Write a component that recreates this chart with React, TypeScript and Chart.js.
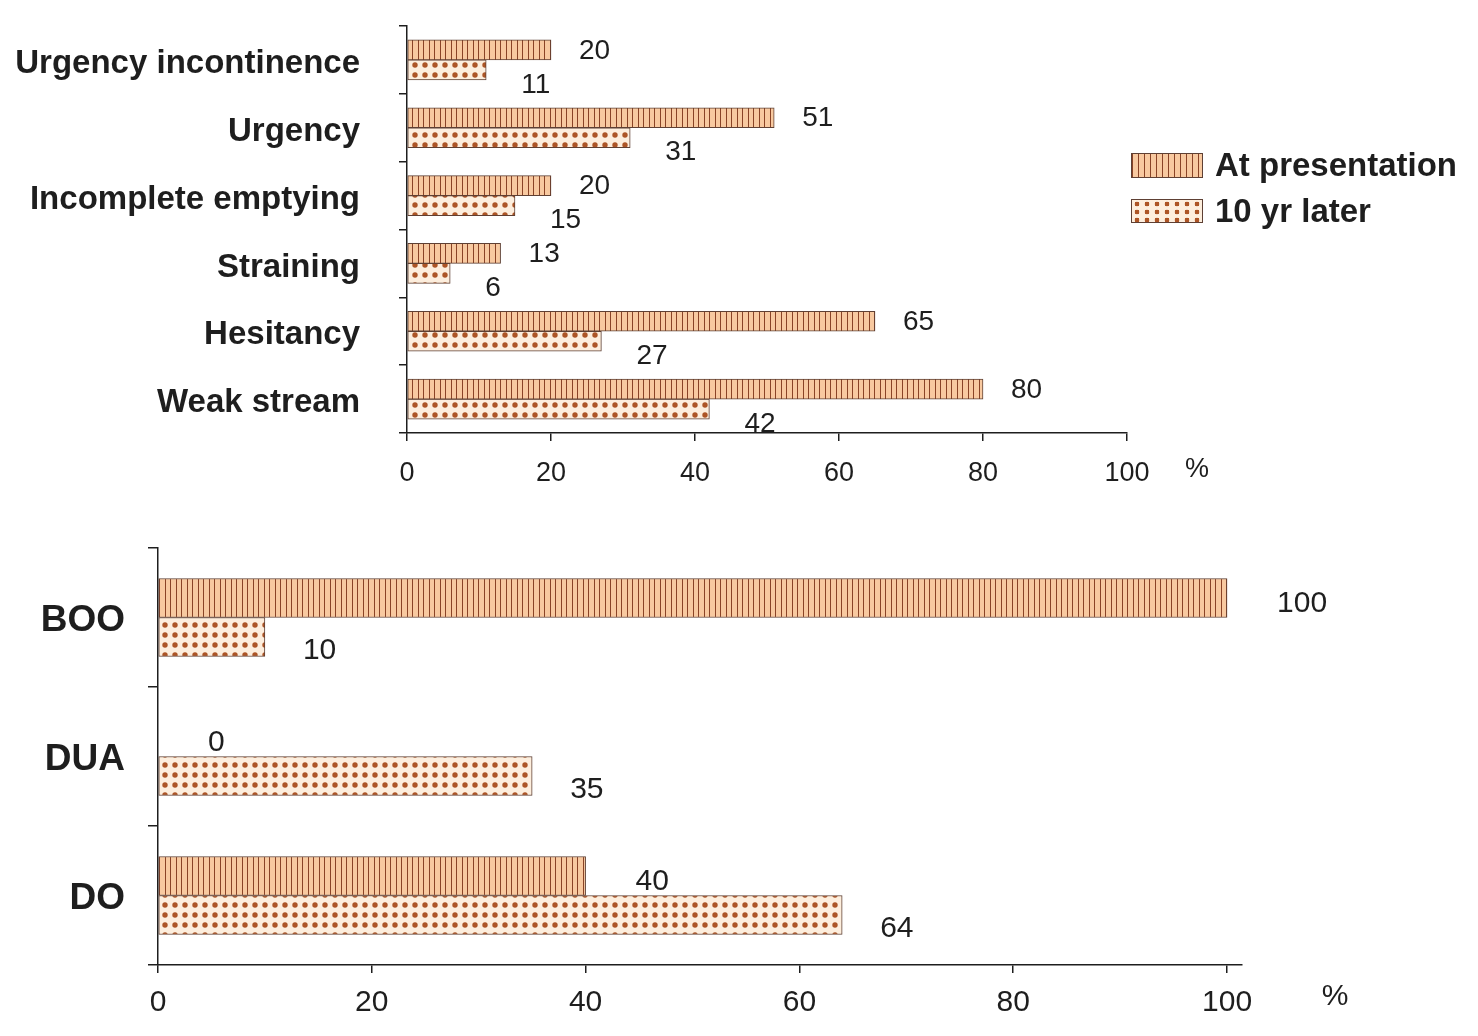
import { useEffect, useRef } from 'react'
import { Chart, registerables } from 'chart.js'

Chart.register(...registerables)

const seriesNames = ['At presentation', '10 yr later']

const symptomLabels = [
  'Urgency incontinence',
  'Urgency',
  'Incomplete emptying',
  'Straining',
  'Hesitancy',
  'Weak stream',
]
const symptomAtPresentation = [20, 51, 20, 13, 65, 80]
const symptomTenYrLater = [11, 31, 15, 6, 27, 42]

const urodynamicLabels = ['BOO', 'DUA', 'DO']
const urodynamicAtPresentation = [100, 0, 40]
const urodynamicTenYrLater = [10, 35, 64]

const xTickStep = 20
const xUnit = '%'

const W = 1478
const FONT = '"Liberation Sans", Arial, Helvetica, sans-serif'
const INK = '#1e1e1e'
const LINE_BG = '#f8c9a0'
const LINE_FG = '#8a4326'
const DOT_BG = '#fdeedd'
const DOT_FG = '#ad5526'
const BAR_BORDER = '#5e4034'

// vertical hatching, ~5.5px period
function linePattern() {
  const c = document.createElement('canvas')
  c.width = 11
  c.height = 4
  const g = c.getContext('2d')!
  g.fillStyle = LINE_BG
  g.fillRect(0, 0, 11, 4)
  g.fillStyle = LINE_FG
  g.fillRect(0, 0, 1, 4)
  g.fillRect(5, 0, 1, 4)
  return g.createPattern(c, 'repeat')!
}

function dotPattern() {
  const c = document.createElement('canvas')
  c.width = 10
  c.height = 10
  const g = c.getContext('2d')!
  g.fillStyle = DOT_BG
  g.fillRect(0, 0, 10, 10)
  g.fillStyle = DOT_FG
  g.beginPath()
  g.arc(5, 5, 2.7, 0, Math.PI * 2)
  g.fill()
  return g.createPattern(c, 'repeat')!
}

type PanelSpec = {
  top: number
  height: number
  area: { left: number; right: number; top: number; bottom: number }
  max: number
  barThickness: number
  catFont: number
  catPad: number
  catTick: number
  catShift: number
  tickFont: number
  tickPad: number
  valueFont: number
  valueOffsets: [number, number][]
  unitOffset: [number, number]
}

function BarPanel({
  labels,
  first,
  second,
  spec,
}: {
  labels: string[]
  first: number[]
  second: number[]
  spec: PanelSpec
}) {
  const canvasRef = useRef<HTMLCanvasElement | null>(null)

  useEffect(() => {
    const canvas = canvasRef.current
    if (!canvas) return
    const { area } = spec

    const valueLabels = {
      id: 'valueLabels',
      afterDatasetsDraw(chart: Chart) {
        const ctx = chart.ctx
        ctx.save()
        ctx.font = `${spec.valueFont}px ${FONT}`
        ctx.fillStyle = INK
        ctx.textAlign = 'left'
        ctx.textBaseline = 'middle'
        chart.data.datasets.forEach((ds, i) => {
          const [dx, dy] = spec.valueOffsets[i]
          chart.getDatasetMeta(i).data.forEach((bar: any, j) => {
            ctx.fillText(String(ds.data[j]), bar.x + dx, bar.y + dy)
          })
        })
        ctx.restore()
      },
      afterDraw(chart: Chart) {
        const ctx = chart.ctx
        const ca = chart.chartArea
        ctx.save()
        ctx.font = `${spec.tickFont}px ${FONT}`
        ctx.fillStyle = INK
        ctx.textAlign = 'center'
        ctx.textBaseline = 'middle'
        ctx.fillText(xUnit, ca.right + spec.unitOffset[0], ca.bottom + spec.unitOffset[1])
        ctx.restore()
      },
    }

    const chart = new Chart(canvas, {
      type: 'bar',
      data: {
        labels,
        datasets: [
          {
            label: seriesNames[0],
            data: first,
            backgroundColor: linePattern(),
            borderColor: BAR_BORDER,
            borderWidth: 1,
            borderSkipped: false,
            barThickness: spec.barThickness,
          },
          {
            label: seriesNames[1],
            data: second,
            backgroundColor: dotPattern(),
            borderColor: BAR_BORDER,
            borderWidth: 1,
            borderSkipped: false,
            barThickness: spec.barThickness,
          },
        ],
      },
      options: {
        indexAxis: 'y',
        responsive: false,
        animation: false,
        layout: {
          autoPadding: false,
          padding: { left: 0, top: area.top - spec.top, right: W - area.right, bottom: 0 },
        },
        plugins: { legend: { display: false }, tooltip: { enabled: false } },
        scales: {
          x: {
            type: 'linear',
            min: 0,
            max: spec.max,
            afterFit: (s: any) => {
              s.height = spec.top + spec.height - area.bottom
              s.paddingLeft = 0
              s.paddingRight = 0
            },
            ticks: {
              stepSize: xTickStep,
              includeBounds: false,
              color: INK,
              padding: spec.tickPad,
              maxRotation: 0,
              font: { family: FONT, size: spec.tickFont },
            },
            grid: {
              drawOnChartArea: false,
              drawTicks: true,
              tickLength: 8,
              color: INK,
              lineWidth: 1.5,
            },
            border: { display: true, color: INK, width: 1.5 },
          },
          y: {
            type: 'category',
            afterFit: (s: any) => {
              s.width = area.left
              s.paddingTop = 0
              s.paddingBottom = 0
            },
            ticks: {
              color: INK,
              padding: spec.catPad,
              labelOffset: spec.catShift,
              font: { family: FONT, size: spec.catFont, weight: 'bold' },
            },
            grid: {
              offset: true,
              drawOnChartArea: false,
              drawTicks: true,
              tickLength: spec.catTick,
              color: INK,
              lineWidth: 1.5,
            },
            border: { display: true, color: INK, width: 1.5 },
          },
        },
      },
      plugins: [valueLabels],
    })

    return () => chart.destroy()
  }, [labels, first, second, spec])

  return (
    <canvas
      ref={canvasRef}
      width={W}
      height={spec.height}
      style={{ position: 'absolute', left: 0, top: spec.top, width: W, height: spec.height }}
    />
  )
}

const symptomSpec: PanelSpec = {
  top: 0,
  height: 510,
  area: { left: 407, right: 1127, top: 26, bottom: 433 },
  max: 100,
  barThickness: 20,
  catFont: 33,
  catPad: 39,
  catTick: 8,
  catShift: 4,
  tickFont: 27,
  tickPad: 16,
  valueFont: 28,
  valueOffsets: [
    [28, 1],
    [35, 15],
  ],
  unitOffset: [70, 37],
}

const urodynamicSpec: PanelSpec = {
  top: 520,
  height: 516,
  area: { left: 158, right: 1242, top: 548, bottom: 965 },
  max: 101.4,
  barThickness: 39,
  catFont: 37,
  catPad: 23,
  catTick: 10,
  catShift: 3,
  tickFont: 30,
  tickPad: 12,
  valueFont: 30,
  valueOffsets: [
    [50, 6],
    [38, 14],
  ],
  unitOffset: [93, 32],
}

const legendText = {
  position: 'absolute' as const,
  left: 1215,
  fontFamily: FONT,
  fontWeight: 'bold' as const,
  fontSize: 33,
  color: INK,
  lineHeight: '38px',
  whiteSpace: 'nowrap' as const,
}

export default function App() {
  return (
    <div
      style={{
        position: 'absolute',
        left: 0,
        top: 0,
        width: W,
        height: 1036,
        background: '#ffffff',
        overflow: 'hidden',
      }}
    >
      <BarPanel
        labels={symptomLabels}
        first={symptomAtPresentation}
        second={symptomTenYrLater}
        spec={symptomSpec}
      />
      <BarPanel
        labels={urodynamicLabels}
        first={urodynamicAtPresentation}
        second={urodynamicTenYrLater}
        spec={urodynamicSpec}
      />

      {/* legend */}
      <div
        style={{
          position: 'absolute',
          left: 1131,
          top: 153,
          width: 70,
          height: 23,
          border: `1px solid ${BAR_BORDER}`,
          background: `repeating-linear-gradient(90deg, ${LINE_FG} 0 1px, ${LINE_BG} 1px 6px)`,
        }}
      />
      <div style={{ ...legendText, top: 146 }}>{seriesNames[0]}</div>
      <div
        style={{
          position: 'absolute',
          left: 1131,
          top: 199,
          width: 70,
          height: 22,
          border: `1px solid ${BAR_BORDER}`,
          background: `radial-gradient(circle, ${DOT_FG} 0 2.2px, transparent 2.6px) 0 0 / 10px 8px, ${DOT_BG}`,
        }}
      />
      <div style={{ ...legendText, top: 192 }}>{seriesNames[1]}</div>
    </div>
  )
}
